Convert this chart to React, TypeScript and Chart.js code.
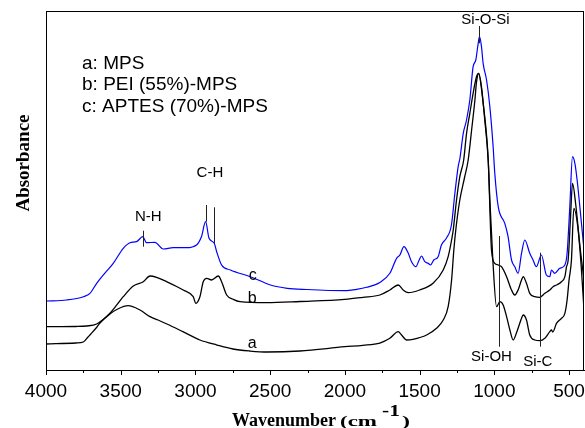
import React, { useEffect, useRef } from "react";
import { Chart, registerables } from "chart.js";

Chart.register(...registerables);

// ---- Data (wavenumber in cm^-1, absorbance in arbitrary units) ----
const wavenumberA = [4000,3800,3750,3719,3700,3659,3639,3572,3520,3451,3371,3304,3250,3191,3084,2970,2856,2749,2635,2522,2301,2000,1880,1766,1699,1643,1621,1587,1545,1453,1387,1342,1309,1286,1271,1258,1231,1200,1175,1152,1130,1119,1104,1086,1064,1041,1030,1010,985,963,941,918,896,874,852,818,807,785,763,729,696,662,629,618,609,584,551,528,513,500,484,468,439,417,400];
const absorbanceA = [7.24,7.52,7.80,9.19,10.03,11.98,13.09,15.60,16.99,17.91,16.71,14.85,13.93,12.81,10.67,8.36,6.96,5.85,5.29,5.01,5.29,6.49,6.88,7.52,8.83,10.67,9.75,8.36,8.55,9.75,11.62,13.93,17.63,25.07,33.43,39.0,47.35,53.48,58.50,66.85,75.21,80.31,82.65,78.91,69.64,58.50,47.35,30.64,17.63,19.02,18.11,14.85,11.14,8.36,10.31,14.40,15.32,13.93,9.75,8.36,8.16,8.83,10.67,11.14,10.58,13.01,14.40,15.79,19.50,25.07,30.64,45.04,39.0,27.86,16.71];

const wavenumberB = [4000,3800,3728,3661,3572,3483,3416,3349,3304,3260,3193,3082,3015,2997,2970,2948,2925,2892,2847,2825,2791,2747,2702,2524,2301,2000,1880,1766,1699,1643,1610,1576,1500,1410,1342,1309,1286,1275,1253,1231,1205,1186,1164,1142,1119,1106,1075,1041,1019,997,974,952,918,885,863,841,818,807,785,763,729,696,662,629,607,584,551,528,517,506,491,477,455,428,400];
const absorbanceB = [12.06,12.12,12.26,12.81,15.79,20.42,23.40,24.60,26.18,25.82,24.60,22.28,20.42,18.58,20.42,24.60,25.54,25.07,26.18,24.60,20.89,19.69,19.03,18.75,19.08,19.69,20.25,20.89,22.28,23.68,22.28,21.53,22.28,24.15,27.86,31.56,36.21,39.0,47.35,53.84,58.50,65.93,71.50,77.07,81.74,82.65,74.37,58.50,33.43,29.72,29.25,28.77,25.99,22.28,20.89,22.28,25.07,25.99,24.15,21.36,20.42,20.25,21.36,22.28,23.20,23.68,24.60,25.99,28.77,30.64,41.78,52.01,45.96,34.82,25.07];

const wavenumberC = [4000,3862,3750,3706,3661,3617,3550,3483,3438,3394,3353,3327,3271,3216,3149,3060,2993,2960,2932,2909,2874,2858,2825,2766,2632,2498,2386,2256,2000,1922,1855,1766,1699,1654,1632,1605,1576,1554,1525,1503,1487,1465,1443,1427,1405,1376,1354,1320,1287,1264,1242,1230,1208,1186,1164,1142,1124,1108,1099,1086,1075,1052,1030,1008,997,974,930,908,885,863,841,818,796,763,741,719,685,652,629,618,596,562,528,513,495,477,461,446,417,400];
const absorbanceC = [19.22,19.50,20.42,21.36,24.15,26.46,29.72,33.90,35.46,35.74,37.13,35.46,35.57,33.70,34.07,34.07,34.82,37.13,41.31,36.68,35.29,32.95,29.25,27.86,25.99,23.68,22.76,22.42,22.09,22.48,23.04,24.37,26.94,31.11,32.03,34.35,32.51,30.17,28.77,30.64,31.76,30.17,29.72,29.25,30.64,31.56,34.82,36.77,40.39,49.22,56.63,59.05,65.93,69.64,75.21,84.48,86.35,91.0,92.84,90.06,85.43,80.78,73.34,62.20,54.79,45.49,40.86,37.13,30.64,28.77,26.94,32.51,36.21,32.51,30.64,28.77,32.03,26.46,25.99,27.86,26.94,28.33,29.25,32.51,45.49,59.42,57.57,52.92,40.86,33.43];

// ---- Axis ----
const X_MIN = 400;
const X_MAX = 4000;
const Y_MIN = 0;
const Y_MAX = 100;
const tickValues = [4000,3750,3500,3250,3000,2750,2500,2250,2000,1750,1500,1250,1000,750,500];

// ---- Annotations ----
const legendLines = ["a: MPS", "b: PEI (55%)-MPS", "c: APTES (70%)-MPS"];
const legendX = 3759;
const legendY = [85.43, 79.39, 73.34];

const peakLabels = ["Si-O-Si", "N-H", "C-H", "Si-OH", "Si-C"];
const peakLabelX = [1059, 3316, 2903, 1019, 709];
const peakLabelY = [97.49, 42.7, 54.79, 3.7, 2.31];

const markerX = [1102, 3353, 2932, 2874, 970, 696];
const markerTop = [95.82, 38.8, 45.96, 45.32, 37.33, 32.67];
const markerBottom = [91.0, 34.35, 41.31, 35.29, 6.49, 6.49];

const curveTags = ["a", "b", "c"];
const curveTagX = [2620, 2620, 2617];
const curveTagY = [7.44, 19.97, 26.18];

const SANS = '"Liberation Sans", Arial, sans-serif';
const SERIF = '"Liberation Serif", "Times New Roman", serif';

function zip(xs: number[], ys: number[]) {
  return xs.map((x, i) => ({ x, y: ys[i] }));
}

function stretchText(ctx: any, text: string, x: number, y: number, font: string, targetWidth: number) {
  ctx.font = font;
  const w = ctx.measureText(text).width;
  const sx = targetWidth / w;
  ctx.save();
  ctx.translate(x, y);
  ctx.scale(sx, 1);
  ctx.fillText(text, 0, 0);
  ctx.restore();
  return targetWidth;
}

const decorPlugin = {
  id: "decor",
  afterDraw(chart: any) {
    const { ctx, chartArea } = chart;
    const xs = chart.scales.x;
    const ys = chart.scales.y;
    ctx.save();
    // frame
    ctx.strokeStyle = "#000";
    ctx.lineWidth = 1;
    ctx.strokeRect(chartArea.left + 0.5, chartArea.top + 0.5, chartArea.right - chartArea.left - 1, chartArea.bottom - chartArea.top);
    // ticks
    tickValues.forEach((v) => {
      const px = Math.round(xs.getPixelForValue(v)) + 0.5;
      const len = v % 500 === 0 ? 5 : 3;
      ctx.beginPath();
      ctx.moveTo(px, chartArea.bottom);
      ctx.lineTo(px, chartArea.bottom + len);
      ctx.stroke();
    });
    // markers
    ctx.strokeStyle = "#222";
    markerX.forEach((wx, i) => {
      const px = Math.round(xs.getPixelForValue(wx)) + 0.5;
      ctx.beginPath();
      ctx.moveTo(px, ys.getPixelForValue(markerTop[i]));
      ctx.lineTo(px, ys.getPixelForValue(markerBottom[i]));
      ctx.stroke();
    });
    ctx.fillStyle = "#000";
    ctx.textAlign = "center";
    ctx.textBaseline = "middle";
    ctx.font = `15px ${SANS}`;
    peakLabels.forEach((t, i) => {
      ctx.fillText(t, xs.getPixelForValue(peakLabelX[i]), ys.getPixelForValue(peakLabelY[i]));
    });
    ctx.font = `16px ${SANS}`;
    curveTags.forEach((t, i) => {
      ctx.fillText(t, xs.getPixelForValue(curveTagX[i]), ys.getPixelForValue(curveTagY[i]));
    });
    // legend text
    ctx.textAlign = "left";
    ctx.font = `19px ${SANS}`;
    legendLines.forEach((t, i) => {
      ctx.fillText(t, xs.getPixelForValue(legendX), ys.getPixelForValue(legendY[i]));
    });
    // x title
    ctx.textBaseline = "alphabetic";
    ctx.textAlign = "left";
    let x0 = 232;
    const base = 426;
    ctx.font = `bold 18px ${SERIF}`;
    ctx.fillText("Wavenumber", x0, base);
    x0 = 340;
    x0 += stretchText(ctx, "(cm", x0, base, `bold 15px ${SERIF}`, 37) + 5;
    x0 += stretchText(ctx, "-1", x0, base - 10, `bold 17px ${SERIF}`, 18) + 2;
    stretchText(ctx, ")", x0, base, `bold 15px ${SERIF}`, 8);
    // y title
    ctx.save();
    ctx.translate(24, 163);
    ctx.rotate(-Math.PI / 2);
    ctx.textAlign = "center";
    ctx.textBaseline = "middle";
    ctx.font = `bold 19px ${SERIF}`;
    ctx.fillText("Absorbance", 0, 0);
    ctx.restore();
    ctx.restore();
  },
};

export default function App() {
  const ref = useRef<HTMLCanvasElement>(null);
  useEffect(() => {
    document.body.style.margin = "0";
    const chart = new Chart(ref.current as HTMLCanvasElement, {
      type: "line",
      data: {
        datasets: [
          { label: "a", data: zip(wavenumberA, absorbanceA), borderColor: "#000", borderWidth: 1.3 },
          { label: "b", data: zip(wavenumberB, absorbanceB), borderColor: "#000", borderWidth: 1.3 },
          { label: "c", data: zip(wavenumberC, absorbanceC), borderColor: "#0000ff", borderWidth: 1.2 },
        ] as any,
      },
      options: {
        animation: false,
        responsive: false,
        devicePixelRatio: 1,
        elements: {
          point: { radius: 0 },
          line: { cubicInterpolationMode: "monotone", fill: false },
        },
        layout: { padding: { top: 11, right: 1, left: 0, bottom: 0 } },
        plugins: { legend: { display: false }, tooltip: { enabled: false } },
        scales: {
          x: {
            type: "linear",
            min: X_MIN,
            max: X_MAX,
            reverse: true,
            grid: { display: false, drawTicks: false },
            border: { display: true, color: "#000", width: 1 },
            afterBuildTicks: (s: any) => {
              s.ticks = tickValues.map((v) => ({ value: v }));
            },
            ticks: {
              autoSkip: false,
              maxRotation: 0,
              padding: 10,
              color: "#000",
              font: { family: SANS, size: 19 },
              callback: (v: any) => (Number(v) % 500 === 0 ? String(v) : ""),
            },
            afterFit: (s: any) => {
              s.height = 58;
              s.paddingLeft = 0;
              s.paddingRight = 0;
            },
          },
          y: {
            type: "linear",
            min: Y_MIN,
            max: Y_MAX,
            grid: { display: false, drawTicks: false },
            border: { display: true, color: "#000", width: 1 },
            ticks: { display: false },
            afterFit: (s: any) => {
              s.width = 46;
              s.paddingTop = 0;
              s.paddingBottom = 0;
            },
          },
        },
      },
      plugins: [decorPlugin],
    });
    return () => chart.destroy();
  }, []);
  return (
    <div style={{ position: "absolute", left: 0, top: 0, width: 585, height: 428 }}>
      <canvas ref={ref} width={585} height={428} />
    </div>
  );
}
